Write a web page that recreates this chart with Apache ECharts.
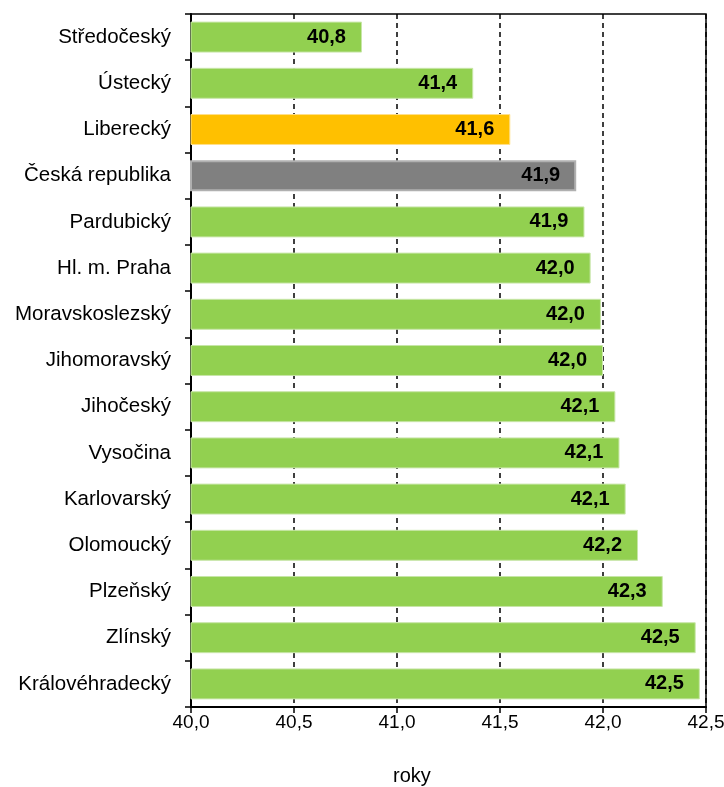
<!DOCTYPE html>
<html><head><meta charset="utf-8">
<script src="https://cdn.jsdelivr.net/npm/echarts@6/dist/echarts.min.js"></script>
<style>html,body{margin:0;padding:0;background:#fff}#c{width:724px;height:787px}</style>
</head><body><div id="c"></div>
<script>
const categories = ["Středočeský","Ústecký","Liberecký","Česká republika","Pardubický","Hl. m. Praha","Moravskoslezský","Jihomoravský","Jihočeský","Vysočina","Karlovarský","Olomoucký","Plzeňský","Zlínský","Královéhradecký"];
const values = [40.83,41.37,41.55,41.87,41.91,41.94,41.99,42.00,42.06,42.08,42.11,42.17,42.29,42.45,42.47];
const labels = ["40,8","41,4","41,6","41,9","41,9","42,0","42,0","42,0","42,1","42,1","42,1","42,2","42,3","42,5","42,5"];
const xTicks = ["40,0","40,5","41,0","41,5","42,0","42,5"];
const axisTitle = "roky";

const green = '#92D050', orange = '#FFC000', gray = '#808080';
const data = values.map((v,i)=>{
  let color = green, border = '#c8e6a8';
  if (categories[i]==="Liberecký") { color = orange; border = '#ffe08a'; }
  if (categories[i]==="Česká republika") { color = gray; border = '#b0b0b0'; }
  return {value:v, itemStyle:{color:color, borderColor:border, borderWidth: categories[i]==="Česká republika"?2:1}};
});

const chart = echarts.init(document.getElementById('c'));
chart.setOption({
  animation:false,
  grid:{left:191,right:18,top:14,bottom:80,outerBoundsMode:'none',containLabel:false,show:true,borderColor:'#000',borderWidth:1.5,backgroundColor:'transparent'},
  xAxis:{type:'value',min:40,max:42.5,interval:0.5,
    axisLine:{show:true,lineStyle:{color:'#000',width:2}},
    axisTick:{show:true,inside:false,length:6,lineStyle:{color:'#000',width:1.5}},
    axisLabel:{color:'#000',fontFamily:'Liberation Sans',fontSize:19,margin:6,
      formatter:(v)=>{const idx=Math.round((v-40)/0.5);return xTicks[idx]!==undefined?xTicks[idx]:'';}},
    splitLine:{show:true,lineStyle:{color:'#000',type:[5,4],width:1.5}}},
  yAxis:{type:'category',data:categories,inverse:true,
    axisLine:{show:true,lineStyle:{color:'#000',width:2}},
    axisTick:{show:true,length:6,lineStyle:{color:'#000',width:1.5}},
    axisLabel:{color:'#000',fontFamily:'Liberation Sans',fontSize:20.5,margin:20}},
  series:[{type:'bar',data:data,barCategoryGap:'33%',
    label:{show:true,position:'insideRight',distance:16,color:'#000',fontFamily:'Liberation Sans',fontWeight:'bold',fontSize:20,
      formatter:(p)=>labels[p.dataIndex]}}],
  graphic:[{type:'text',left:393,top:766,style:{text:axisTitle,fill:'#000',font:'20px "Liberation Sans"'}}]
});
</script></body></html>
